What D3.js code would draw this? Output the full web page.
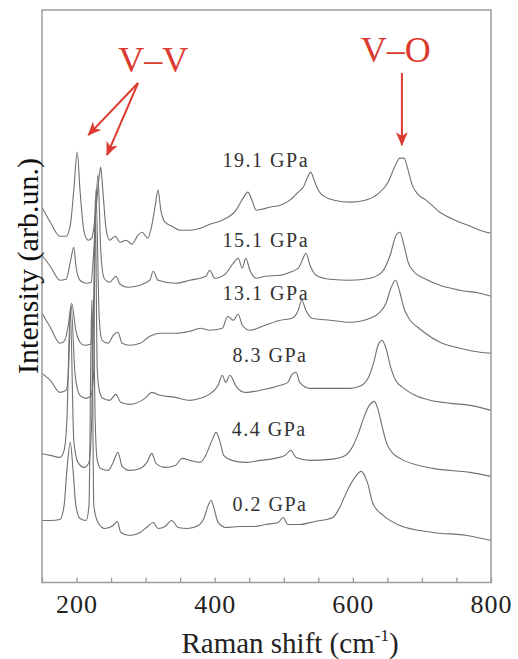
<!DOCTYPE html>
<html>
<head>
<meta charset="utf-8">
<script src="https://cdn.jsdelivr.net/npm/d3@7"></script>
<style>
  html, body { margin: 0; padding: 0; background: #fff; }
  svg { display: block; }
  svg text { font-family: "Liberation Serif", "Times New Roman", Tinos, "Nimbus Roman", "DejaVu Serif", "Noto Serif", serif; }
</style>
</head>
<body>
<div id="chart"></div>
<script>
// Raman spectra under pressure: [Raman shift (cm^-1), intensity (arb. un., stacked)]
const spec19_1 = [[150,37.5],[162,36.0],[176,34.6],[185,34.6],[191,35.7],[196,39.2],[201,43.0],[205,39.2],[211,35.0],[217,34.2],[222,34.4],[228,37.2],[233,40.7],[235,41.5],[238,39.2],[243,35.2],[248,34.2],[256,34.6],[263,34.0],[272,34.2],[280,33.8],[289,34.7],[295,35.0],[303,34.4],[309,35.7],[314,37.7],[318,39.2],[322,37.2],[328,36.0],[338,35.6],[350,35.2],[364,35.2],[379,35.4],[393,35.8],[411,36.2],[431,37.2],[442,38.5],[448,39.0],[454,38.2],[460,37.2],[468,37.3],[480,37.5],[495,37.7],[509,38.2],[521,39.0],[529,39.6],[535,40.6],[539,41.0],[544,40.2],[550,39.2],[558,38.6],[573,38.2],[596,38.0],[618,38.2],[636,38.8],[651,40.0],[661,41.6],[668,42.4],[674,42.4],[680,41.2],[686,39.7],[694,38.8],[706,38.2],[726,37.0],[748,36.2],[770,35.6],[784,35.2],[800,34.9]];
const spec15_1 = [[150,32.7],[162,31.6],[176,30.2],[185,30.3],[191,32.0],[196,33.5],[199,31.7],[205,30.2],[214,29.9],[221,30.0],[225,33.2],[231,40.7],[235,33.2],[240,30.4],[248,30.0],[257,30.6],[263,29.8],[274,29.5],[292,29.7],[306,30.2],[311,31.1],[318,30.2],[343,29.9],[364,30.2],[387,30.6],[393,31.2],[400,30.4],[415,30.8],[427,31.9],[434,32.4],[440,31.4],[445,32.4],[451,31.2],[460,30.4],[473,30.6],[495,30.7],[509,31.0],[521,31.4],[528,32.4],[532,32.9],[538,31.7],[547,30.7],[567,30.3],[596,30.2],[625,30.4],[642,31.0],[654,32.7],[662,34.6],[668,35.0],[674,33.7],[680,32.0],[689,31.0],[703,30.4],[726,29.7],[755,29.2],[784,28.9],[800,28.6]];
const spec13_1 = [[150,26.9],[162,25.5],[176,23.9],[183,24.2],[188,25.7],[193,27.9],[199,25.2],[205,24.0],[211,23.7],[220,23.8],[224,26.2],[228,39.2],[233,26.2],[237,24.2],[246,23.9],[253,24.7],[260,25.0],[266,23.9],[277,23.7],[292,23.9],[306,24.6],[321,24.9],[343,24.9],[364,25.1],[379,25.4],[393,25.2],[411,25.4],[419,26.6],[427,26.2],[434,26.8],[440,25.7],[451,25.2],[473,25.7],[495,26.2],[512,26.4],[521,27.2],[526,28.2],[532,27.2],[541,26.4],[567,26.2],[596,26.0],[625,26.4],[639,27.0],[648,27.9],[655,29.4],[662,30.2],[668,29.0],[674,27.4],[683,26.2],[694,25.5],[703,25.0],[726,24.0],[755,23.4],[784,23.0],[800,22.9]];
const spec8_3 = [[150,20.9],[162,20.2],[176,19.0],[185,19.2],[188,20.7],[192,27.7],[198,20.7],[205,18.7],[214,18.4],[221,18.7],[225,21.2],[227,38.2],[230,21.2],[233,19.2],[238,18.4],[248,18.2],[257,18.8],[264,18.0],[277,17.8],[299,18.4],[309,19.0],[321,18.7],[343,18.5],[364,18.2],[379,18.4],[396,19.0],[405,19.7],[411,20.7],[416,20.0],[422,20.7],[431,19.6],[444,19.0],[466,19.2],[495,19.7],[506,20.0],[512,20.8],[518,21.0],[523,20.0],[538,19.4],[567,19.4],[596,19.4],[610,19.6],[622,20.4],[631,22.2],[636,23.6],[642,24.2],[648,23.4],[654,21.7],[662,20.2],[674,19.4],[690,18.7],[712,18.2],[741,17.9],[770,17.7],[800,17.2]];
const spec4_4 = [[150,12.9],[162,12.7],[176,12.5],[182,13.2],[186,16.2],[191,27.2],[196,14.2],[202,12.0],[211,11.5],[218,12.0],[222,16.2],[224,28.4],[227,16.2],[230,12.2],[235,11.4],[246,11.2],[253,12.0],[260,13.0],[266,11.6],[277,11.2],[292,11.4],[302,12.0],[309,12.9],[315,11.9],[328,11.5],[343,11.7],[353,12.4],[364,12.2],[379,12.0],[387,12.7],[396,14.2],[402,15.0],[408,14.0],[413,12.7],[425,12.2],[444,12.0],[466,12.2],[487,12.4],[502,12.7],[510,13.2],[518,12.5],[538,12.2],[567,12.3],[589,12.7],[599,13.5],[608,14.9],[616,16.5],[623,17.6],[631,18.1],[636,17.4],[642,15.7],[649,13.9],[658,12.9],[668,12.4],[716,11.4],[770,11.0],[800,10.6]];
const spec0_2 = [[150,6.2],[162,6.2],[176,6.3],[182,7.7],[186,11.2],[191,14.0],[195,11.2],[199,7.7],[205,6.4],[214,6.2],[218,7.7],[222,28.2],[225,7.7],[231,6.0],[241,5.4],[253,5.7],[259,6.1],[264,5.0],[277,4.7],[292,5.0],[303,5.6],[311,6.0],[318,5.4],[328,5.6],[338,6.2],[347,5.5],[361,5.4],[376,5.7],[385,6.5],[390,7.6],[395,8.2],[399,7.4],[405,6.0],[416,5.5],[437,5.6],[458,5.6],[474,5.8],[492,6.0],[499,6.5],[506,5.8],[523,5.8],[545,6.1],[571,6.5],[581,7.5],[592,9.2],[603,10.5],[612,11.1],[621,10.0],[629,7.9],[644,6.7],[668,5.7],[716,5.0],[765,4.7],[800,4.2]];

const spectra = [spec19_1, spec15_1, spec13_1, spec8_3, spec4_4, spec0_2];
const pressures = ["19.1 GPa", "15.1 GPa", "13.1 GPa", "8.3 GPa", "4.4 GPa", "0.2 GPa"];

const shiftTicks = d3.range(150, 801, 50);
const shiftTickLabels = [200, 400, 600, 800];

// label anchors for each pressure, in data space [shift, intensity]
const pressureLabelAt = [[474,41.5],[474,33.5],[474,28.2],[480,22.0],[479,14.6],[480,7.1]];

// band assignment annotations, in data space
const bandLabels = [
  { text: "V\u2013V", at: [311, 51.0] },
  { text: "V\u2013O", at: [662, 52.0] }
];
const bandArrows = [
  { from: [289, 49.9], to: [217, 44.7] },
  { from: [289, 49.9], to: [244, 42.7] },
  { from: [671, 50.9], to: [671, 43.7] }
];

const W = 518, H = 659;
const margin = { left: 42, right: 27, top: 10, bottom: 76.5 };
const red = "#dc3a2e";
const serif = "'Liberation Serif', 'Times New Roman', Tinos, 'Nimbus Roman', 'DejaVu Serif', 'Noto Serif', serif";

const svg = d3.select("#chart").append("svg")
  .attr("width", W).attr("height", H)
  .attr("font-family", serif);

const x = d3.scaleLinear().domain([150, 800]).range([margin.left, W - margin.right]);
const y = d3.scaleLinear().domain([0, 57.2]).range([H - margin.bottom, margin.top]);

// spectra
const line = d3.line()
  .x(d => x(d[0]))
  .y(d => y(d[1]))
  .curve(d3.curveMonotoneX);

svg.append("g").selectAll("path")
  .data(spectra)
  .join("path")
  .attr("d", line)
  .attr("fill", "none")
  .attr("stroke", "#707070")
  .attr("stroke-width", 1.1)
  .attr("stroke-linejoin", "round");

// pressure labels
svg.append("g").selectAll("text")
  .data(pressures)
  .join("text")
  .attr("x", (d, i) => x(pressureLabelAt[i][0]))
  .attr("y", (d, i) => y(pressureLabelAt[i][1]))
  .attr("text-anchor", "middle")
  .attr("font-size", 20)
  .attr("letter-spacing", 1.5)
  .attr("fill", "#333")
  .text(d => d);

// frame
svg.append("rect")
  .attr("x", x(150)).attr("y", y(57.2))
  .attr("width", x(800) - x(150))
  .attr("height", y(0) - y(57.2))
  .attr("fill", "none")
  .attr("stroke", "#9a9a9a")
  .attr("stroke-width", 1.5);

// bottom axis with inward ticks
const xAxis = d3.axisBottom(x)
  .tickValues(shiftTicks)
  .tickSizeInner(-5)
  .tickSizeOuter(0)
  .tickPadding(12)
  .tickFormat(d => shiftTickLabels.includes(d) ? d : "");

const gx = svg.append("g")
  .attr("transform", `translate(0,${y(0)})`)
  .call(xAxis)
  .attr("font-family", serif);
gx.select(".domain").remove();
gx.selectAll(".tick line").attr("stroke", "#9a9a9a").attr("stroke-width", 1.3);
gx.selectAll(".tick text")
  .attr("font-size", 26)
  .attr("letter-spacing", 1)
  .attr("fill", "#222");

// axis titles
const xt = svg.append("text")
  .attr("x", 290).attr("y", 653)
  .attr("text-anchor", "middle")
  .attr("font-size", 29)
  .attr("fill", "#222");
xt.append("tspan").text("Raman shift (cm");
xt.append("tspan").attr("font-size", 17).attr("dy", -12).text("-1");
xt.append("tspan").attr("dy", 12).text(")");

svg.append("text")
  .attr("transform", "rotate(-90)")
  .attr("x", -266).attr("y", 38)
  .attr("text-anchor", "middle")
  .attr("font-size", 30)
  .attr("fill", "#111")
  .text("Intensity (arb.un.)");

// band annotations
const defs = svg.append("defs");
defs.append("marker")
  .attr("id", "head")
  .attr("markerUnits", "userSpaceOnUse")
  .attr("viewBox", "0 0 14 12")
  .attr("refX", 13).attr("refY", 6)
  .attr("markerWidth", 14).attr("markerHeight", 12)
  .attr("orient", "auto")
  .append("path")
  .attr("d", "M0,0 L14,6 L0,12 L4,6 Z")
  .attr("fill", red);

svg.append("g").selectAll("line")
  .data(bandArrows)
  .join("line")
  .attr("x1", d => x(d.from[0])).attr("y1", d => y(d.from[1]))
  .attr("x2", d => x(d.to[0])).attr("y2", d => y(d.to[1]))
  .attr("stroke", red)
  .attr("stroke-width", 2)
  .attr("marker-end", "url(#head)");

svg.append("g").selectAll("text")
  .data(bandLabels)
  .join("text")
  .attr("x", d => x(d.at[0])).attr("y", d => y(d.at[1]))
  .attr("text-anchor", "middle")
  .attr("font-size", 36)
  .attr("fill", red)
  .text(d => d.text);
</script>
</body>
</html>
